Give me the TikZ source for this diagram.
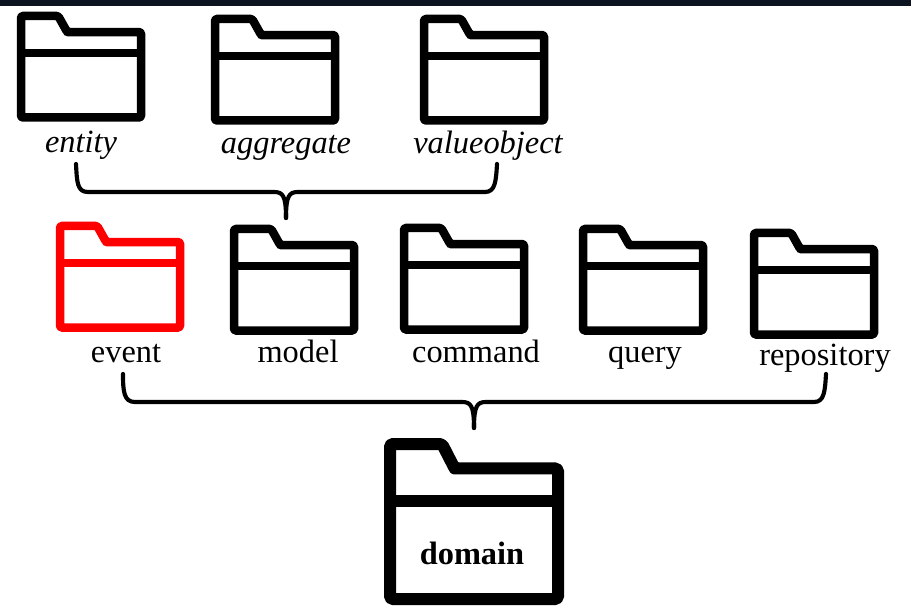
\documentclass[tikz,border=0pt]{standalone}
\usepackage{fontspec}
\setmainfont{Liberation Serif}
\definecolor{topbar}{HTML}{0D1421}
\newcommand{\folderbox}[6]{%
  \begin{scope}[shift={(#1,#2)},x=#3*0.75pt,y=-#4*0.75pt]
    \draw[line width=#5*0.75pt,draw=#6,line join=round,rounded corners=#5*0.12pt]
      (0,0.5) -- (0,0) -- (0.31,0) -- (0.385,0.158) [sharp corners] -- (0.385,0.158) [rounded corners=#5*0.12pt] -- (1,0.158) -- (1,1) -- (0,1) -- cycle;
    \draw[line width=#5*0.75pt,draw=#6] (0,0.365) -- (1,0.365);
  \end{scope}}
\tikzset{
  lbl/.style={anchor=base,inner sep=0pt,font=\fontsize{24.3pt}{24.3pt}\selectfont},
  ilbl/.style={lbl,font=\fontsize{24.3pt}{24.3pt}\selectfont\itshape},
  bracket/.style={line width=3.1pt,line cap=round,line join=round,draw=black}
}
\begin{document}
\begin{tikzpicture}[x=0.75pt,y=-0.75pt]
\useasboundingbox (0,0) rectangle (911,613);
\fill[topbar] (0,0) rectangle (911,6);
% folders
\folderbox{21}{16}{120}{101.5}{8.5}{black}
\folderbox{215}{19}{120}{101.5}{8.5}{black}
\folderbox{424}{19}{120}{101.5}{8.5}{black}
\folderbox{60}{226}{120}{101.5}{8.5}{red}
\folderbox{234}{229}{120}{101.5}{8.5}{black}
\folderbox{404}{228}{120}{101.5}{8.5}{black}
\folderbox{583}{229}{120}{101.5}{8.5}{black}
\folderbox{754}{233}{120}{101.5}{8.5}{black}
\folderbox{390}{444}{168}{155}{12}{black}
% labels
\node[ilbl] (entity) at (81,153) {entity};
\node[ilbl] (aggregate) at (286,154) {aggregate};
\node[ilbl] (valueobject) at (488,154) {valueobject};
\node[lbl] (event) at (126,362) {event};
\node[lbl] (model) at (298,362) {model};
\node[lbl] (command) at (476,362) {command};
\node[lbl] (query) at (645,362) {query};
\node[lbl] (repository) at (825,365) {repository};
\node[lbl,font=\fontsize{24.3pt}{24.3pt}\selectfont\bfseries] (domain) at (472,564) {domain};
% brackets
\coordinate (tl) at (76,164);
\coordinate (tr) at (497,164);
\coordinate (tm) at (286,218);
\coordinate (bl) at (123,374);
\coordinate (br) at (826,374);
\coordinate (bm) at (474,428);
\draw[bracket] (tl) .. controls (77,182) and (77,192) .. (88,192)
  -- (274,192) .. controls (283,192) and (286,196) .. (tm);
\draw[bracket] (tm) .. controls (286,196) and (289,192) .. (298,192)
  -- (485,192) .. controls (495,192) and (496,182) .. (tr);
\draw[bracket] (bl) .. controls (123,392) and (124,402) .. (135,402)
  -- (462,402) .. controls (471,402) and (474,406) .. (bm);
\draw[bracket] (bm) .. controls (474,406) and (477,402) .. (486,402)
  -- (814,402) .. controls (824,402) and (825,392) .. (br);
\end{tikzpicture}
\end{document}
